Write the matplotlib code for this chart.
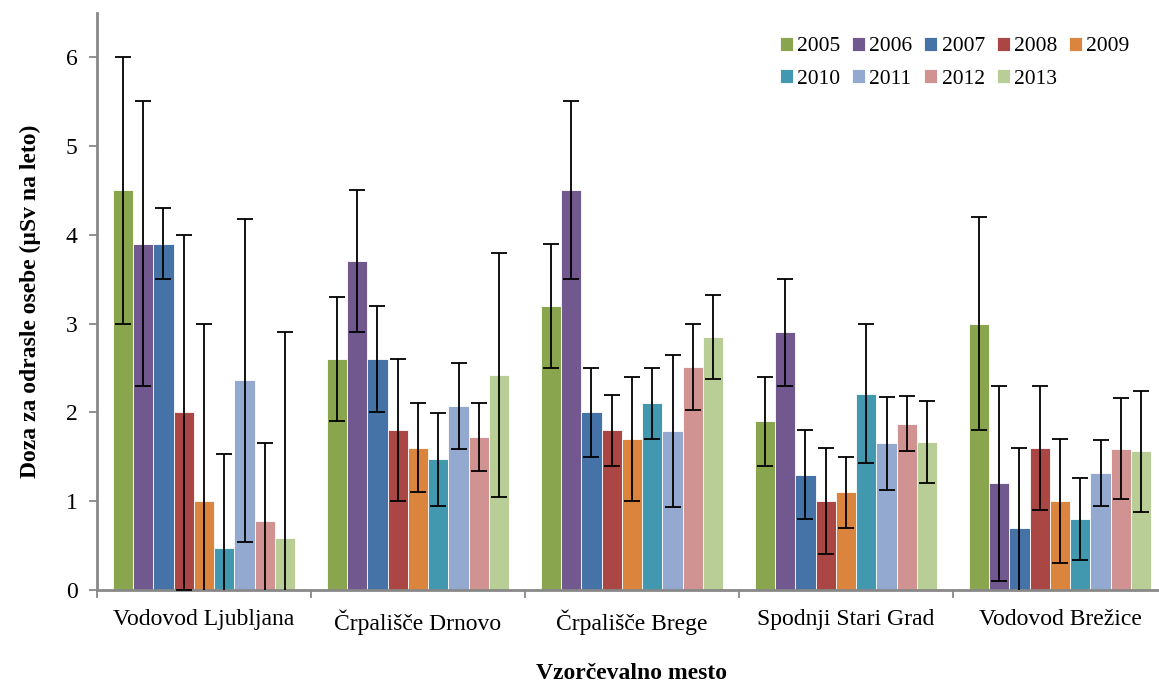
import numpy as np
import matplotlib
matplotlib.use('Agg')
import matplotlib.pyplot as plt

plt.rcParams['font.family'] = ['Liberation Serif', 'DejaVu Serif']

sites = ['Vodovod Ljubljana', 'Črpališče Drnovo', 'Črpališče Brege',
         'Spodnji Stari Grad', 'Vodovod Brežice']
years = ['2005', '2006', '2007', '2008', '2009', '2010', '2011', '2012', '2013']

# dose per year, one list per site
v_ljubljana = [4.5, 3.9, 3.9, 2.0, 1.0, 0.47, 2.36, 0.78, 0.59]
v_drnovo = [2.6, 3.7, 2.6, 1.8, 1.6, 1.47, 2.07, 1.72, 2.42]
v_brege = [3.2, 4.5, 2.0, 1.8, 1.7, 2.1, 1.79, 2.51, 2.85]
v_ssg = [1.9, 2.9, 1.3, 1.0, 1.1, 2.21, 1.65, 1.87, 1.67]
v_brezice = [3.0, 1.2, 0.7, 1.6, 1.0, 0.8, 1.32, 1.59, 1.56]

# error (+/-)
e_ljubljana = [1.5, 1.6, 0.4, 2.0, 2.0, 1.06, 1.82, 0.87, 2.32]
e_drnovo = [0.7, 0.8, 0.6, 0.8, 0.5, 0.52, 0.48, 0.38, 1.37]
e_brege = [0.7, 1.0, 0.5, 0.4, 0.7, 0.4, 0.86, 0.48, 0.47]
e_ssg = [0.5, 0.6, 0.5, 0.6, 0.4, 0.78, 0.52, 0.31, 0.46]
e_brezice = [1.2, 1.1, 0.9, 0.7, 0.7, 0.46, 0.37, 0.57, 0.68]

colors = ['#89A54E', '#71588F', '#4572A7', '#AA4643', '#DB843D',
          '#4198AF', '#93A9CF', '#D19392', '#B9CD96']

vals = np.array([v_ljubljana, v_drnovo, v_brege, v_ssg, v_brezice])
errs = np.array([e_ljubljana, e_drnovo, e_brege, e_ssg, e_brezice])

fig = plt.figure(figsize=(11.59, 6.82), dpi=100)
ax = fig.add_axes([97 / 1159, 92 / 682, 1070 / 1159, 577.4 / 682])

x = np.arange(len(sites))
n = len(years)
w = 0.855 / n
handles = []
for i, yr in enumerate(years):
    pos = x - 0.855 / 2 + w * (i + 0.5)
    b = ax.bar(pos, vals[:, i], width=w, color=colors[i], edgecolor='white',
               linewidth=0.6, label=yr, zorder=2)
    handles.append(b)
    ax.errorbar(pos, vals[:, i], yerr=errs[:, i], fmt='none', ecolor='black',
                elinewidth=1.3, capsize=5.5, capthick=1.3, zorder=3)

ax.set_xlim(-0.5, len(sites) - 0.5)
ax.set_ylim(0, 6.5)
ax.set_yticks(range(7))
ax.set_xticks(x)
ax.set_xticklabels(sites, fontsize=17)
ax.set_xticks(np.arange(len(sites) + 1) - 0.5, minor=True)
ax.tick_params(axis='x', which='major', length=0, pad=14)
ax.tick_params(axis='x', which='minor', length=6, color='#888888', width=1.3)
ax.tick_params(axis='y', labelsize=17, length=6, color='#888888', width=1.3, pad=8)

for s in ['top', 'right']:
    ax.spines[s].set_visible(False)
for s in ['left', 'bottom']:
    ax.spines[s].set_color('#888888')
    ax.spines[s].set_linewidth(2)

ax.set_ylabel('Doza za odrasle osebe (µSv na leto)', fontsize=17,
              fontweight='bold', labelpad=18)
ax.set_xlabel('Vzorčevalno mesto', fontsize=17, fontweight='bold', labelpad=20)

# row-wise legend order (matplotlib fills columns first)
order = [0, 5, 1, 6, 2, 7, 3, 8, 4]
ax.legend([handles[k] for k in order], [years[k] for k in order],
          ncol=5, loc='upper right', bbox_to_anchor=(0.965, 0.958), frameon=False,
          fontsize=15.5, handlelength=0.6, handleheight=0.6, handletextpad=0.2,
          columnspacing=0.55, labelspacing=0.6, borderpad=0, borderaxespad=0)

fig.savefig('out.png', dpi=100)
